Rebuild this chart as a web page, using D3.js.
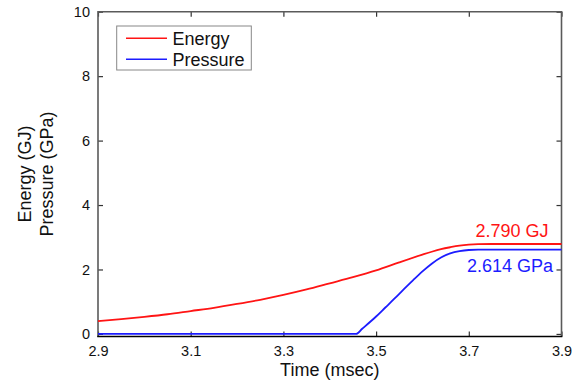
<!DOCTYPE html>
<html>
<head>
<meta charset="utf-8">
<script src="https://cdn.jsdelivr.net/npm/d3@7"></script>
<style>
  html, body { margin: 0; padding: 0; background: #fff; }
  svg { display: block; font-family: "Liberation Sans", Arial, sans-serif; }
</style>
</head>
<body>
<svg id="chart" width="579" height="389"></svg>
<script>
// ---- data ----
const xTicks = [2.9, 3.1, 3.3, 3.5, 3.7, 3.9];
const yTicks = [0, 2, 4, 6, 8, 10];

const energyTime = [2.9, 2.95, 3.0, 3.05, 3.1, 3.15, 3.2, 3.25, 3.3, 3.35, 3.4, 3.45, 3.5, 3.55, 3.6, 3.62, 3.64, 3.66, 3.68, 3.7, 3.72, 3.75, 3.8, 3.9];
const energyValue = [0.40, 0.46, 0.53, 0.61, 0.71, 0.81, 0.93, 1.06, 1.21, 1.38, 1.57, 1.76, 1.97, 2.22, 2.46, 2.55, 2.63, 2.69, 2.74, 2.77, 2.785, 2.79, 2.79, 2.79];

const pressureTime = [2.9, 3.0, 3.2, 3.4, 3.457, 3.47, 3.5, 3.52, 3.54, 3.56, 3.58, 3.6, 3.62, 3.64, 3.66, 3.68, 3.7, 3.72, 3.8, 3.9];
const pressureValue = [0, 0, 0, 0, 0, 0.16, 0.54, 0.82, 1.10, 1.39, 1.67, 1.94, 2.18, 2.37, 2.50, 2.57, 2.605, 2.614, 2.614, 2.614];

const seriesNames = ["Energy", "Pressure"];
const seriesColors = ["#ff1414", "#1c1cff"];
const endLabels = ["2.790 GJ", "2.614 GPa"];
const xTitle = "Time (msec)";
const yTitleLines = ["Energy (GJ)", "Pressure (GPa)"];

// ---- layout ----
const L = 98, R = 561.5, T = 11.7, B = 336.5;
const svg = d3.select("#chart");
const x = d3.scaleLinear().domain([2.9, 3.9]).range([L, R]);
const y = d3.scaleLinear().domain([-0.08, 10]).range([B, T]);

const energy = energyTime.map((t, i) => ({t, v: energyValue[i]}));
const pressure = pressureTime.map((t, i) => ({t, v: pressureValue[i]}));

// axes (ticks inward)
const gB = svg.append("g").attr("transform", `translate(0,${B})`)
  .call(d3.axisBottom(x).tickValues(xTicks).tickFormat(d3.format(".1f")).tickSizeInner(-5).tickSizeOuter(0).tickPadding(9));
const gL = svg.append("g").attr("transform", `translate(${L},0)`)
  .call(d3.axisLeft(y).tickValues(yTicks).tickFormat(d3.format("d")).tickSizeInner(-5).tickSizeOuter(0).tickPadding(8));
const gT = svg.append("g").attr("transform", `translate(0,${T})`)
  .call(d3.axisTop(x).tickValues(xTicks).tickFormat("").tickSizeInner(-5).tickSizeOuter(0));
const gR = svg.append("g").attr("transform", `translate(${R},0)`)
  .call(d3.axisRight(y).tickValues(yTicks).tickFormat("").tickSizeInner(-5).tickSizeOuter(0));

[gB, gL, gT, gR].forEach(g => {
  g.select(".domain").remove();
  g.selectAll(".tick line").attr("stroke", "#333").attr("stroke-width", 1.2);
  g.selectAll(".tick text").attr("font-size", 14.5).attr("fill", "#111")
    .attr("font-family", "Liberation Sans, Arial, sans-serif");
});

// frame
svg.append("path")
  .attr("d", `M${L},${B} V${T} H${R} V${B}`)
  .attr("fill", "none").attr("stroke", "#5a5a5a").attr("stroke-width", 1.6);
svg.append("line").attr("x1", L - 0.8).attr("x2", R + 0.8).attr("y1", B).attr("y2", B)
  .attr("stroke", "#000").attr("stroke-width", 1.6);

// lines
const line = d3.line().x(d => x(d.t)).y(d => y(d.v)).curve(d3.curveMonotoneX);
svg.append("path").datum(energy).attr("d", line)
  .attr("fill", "none").attr("stroke", seriesColors[0]).attr("stroke-width", 1.8);
svg.append("path").datum(pressure).attr("d", line)
  .attr("fill", "none").attr("stroke", seriesColors[1]).attr("stroke-width", 1.8);

// end labels
svg.append("text").attr("x", 548.5).attr("y", 237).attr("text-anchor", "end")
  .attr("font-size", 18).attr("fill", seriesColors[0]).text(endLabels[0]);
svg.append("text").attr("x", 553).attr("y", 271.5).attr("text-anchor", "end")
  .attr("font-size", 18).attr("fill", seriesColors[1]).text(endLabels[1]);

// axis titles
svg.append("text").attr("x", (L + R) / 2).attr("y", 375.5).attr("text-anchor", "middle")
  .attr("font-size", 18).attr("fill", "#111").text(xTitle);
const yc = (T + B) / 2;
[31, 52.5].forEach((bx, i) => {
  svg.append("text").attr("transform", `translate(${bx},${yc}) rotate(-90)`)
    .attr("text-anchor", "middle").attr("font-size", 18).attr("fill", "#111").text(yTitleLines[i]);
});

// legend
const lg = svg.append("g");
lg.append("rect").attr("x", 116.7).attr("y", 26).attr("width", 134.6).attr("height", 44)
  .attr("fill", "#fff").attr("stroke", "#888").attr("stroke-width", 1);
[38.3, 59.3].forEach((ly, i) => {
  lg.append("line").attr("x1", 126).attr("x2", 167).attr("y1", ly).attr("y2", ly)
    .attr("stroke", seriesColors[i]).attr("stroke-width", 1.6);
  lg.append("text").attr("x", 172.5).attr("y", ly + 6.3).attr("font-size", 18)
    .attr("fill", "#111").text(seriesNames[i]);
});
</script>
</body>
</html>
